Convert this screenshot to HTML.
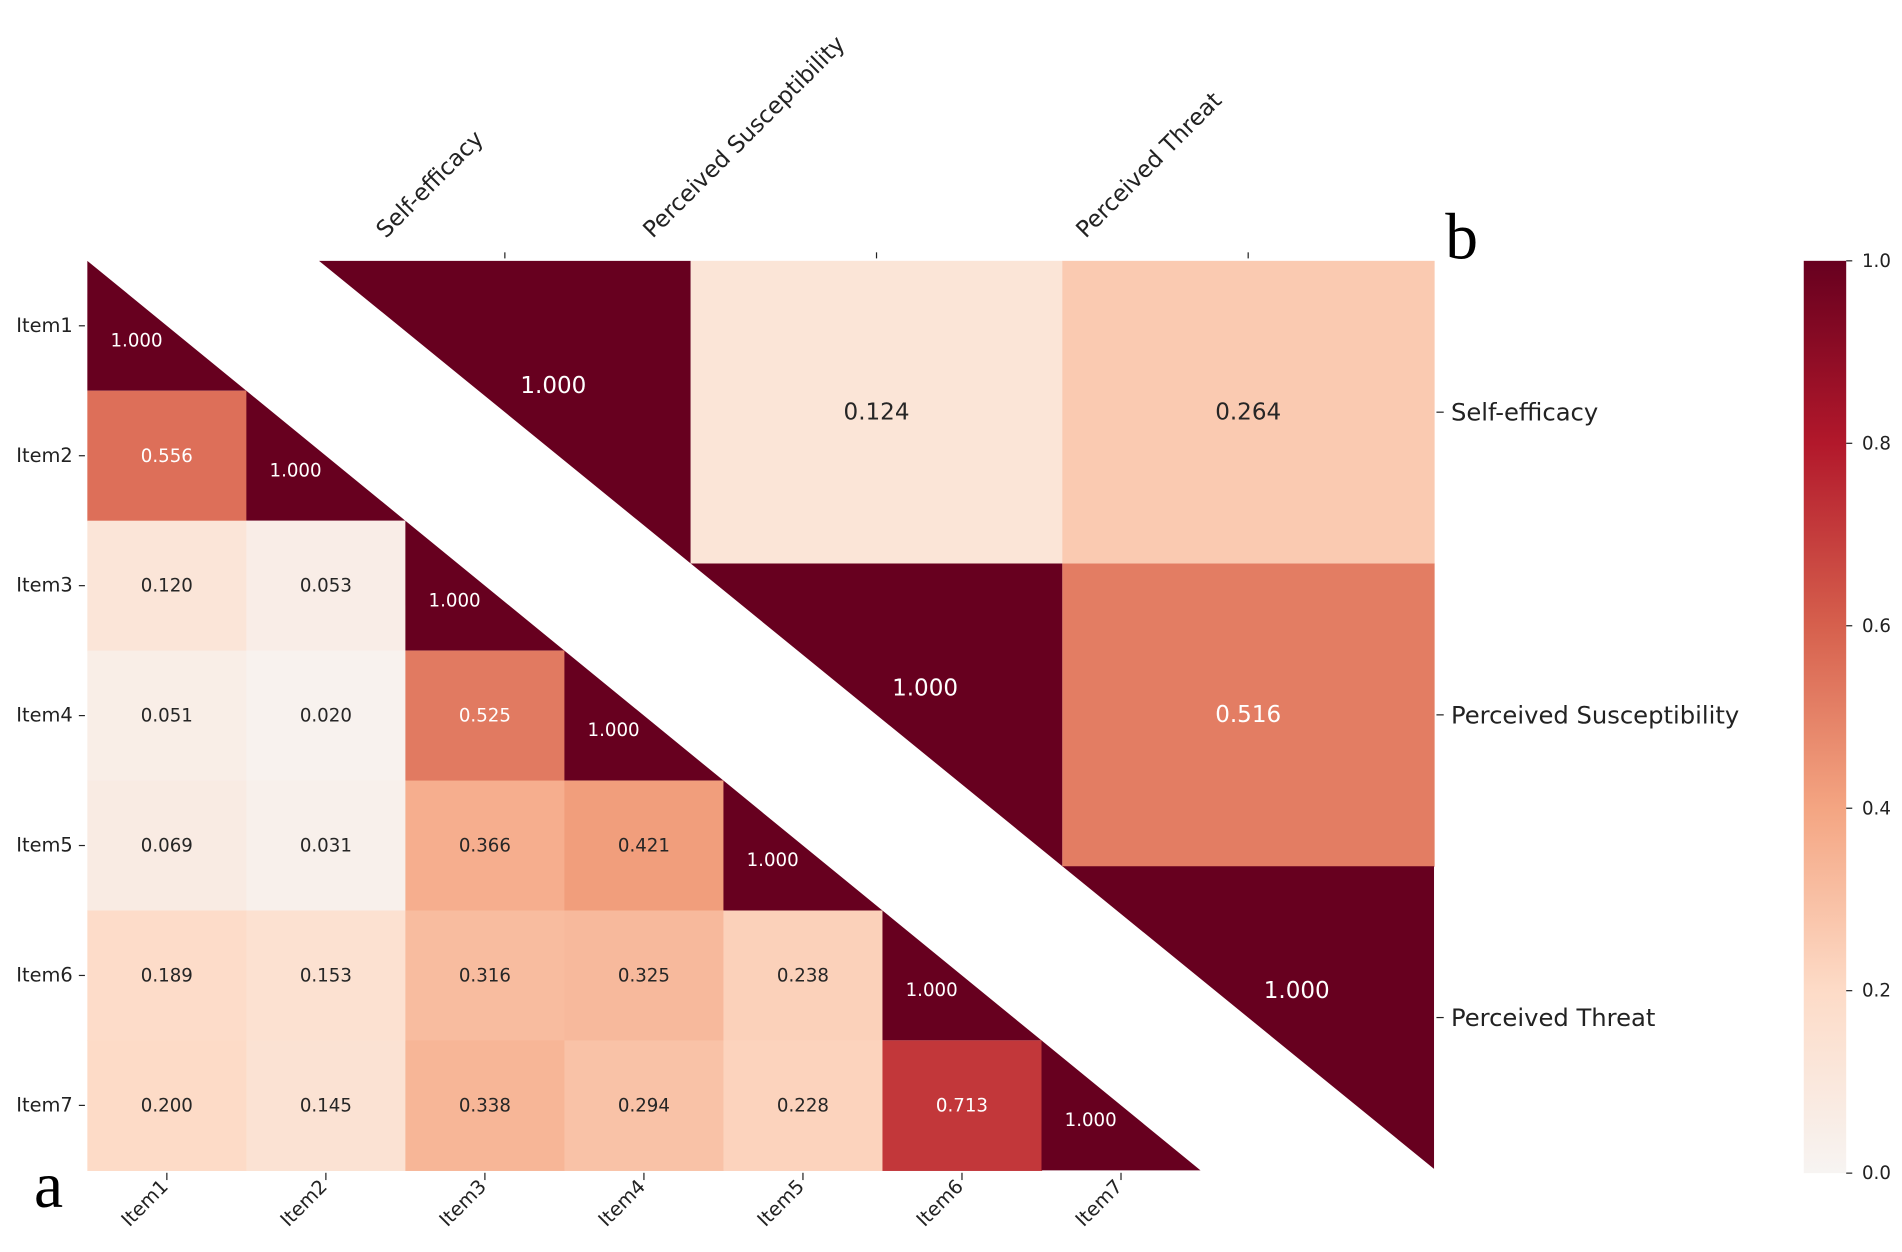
<!DOCTYPE html>
<html><head><meta charset="utf-8"><style>
html,body{margin:0;padding:0;background:#fff;}
svg{display:block;font-family:"DejaVu Sans","Liberation Sans",sans-serif;}
</style></head><body>
<svg id="chart" width="1902" height="1252" viewBox="0 0 1568 1032" preserveAspectRatio="none" xmlns="http://www.w3.org/2000/svg">
<defs>
<linearGradient id="cbg" x1="0" y1="1" x2="0" y2="0">
<stop offset="0" stop-color="#f7f4f2"/><stop offset="0.2" stop-color="#fddbc7"/><stop offset="0.4" stop-color="#f4a582"/><stop offset="0.6" stop-color="#d6604d"/><stop offset="0.8" stop-color="#b2182b"/><stop offset="1" stop-color="#67001f"/>
</linearGradient>
</defs>
<g id="pa"></g>
<g id="pb"></g>
<g id="cb"></g>
<text x="40" y="995" font-family="Liberation Serif,serif" font-size="54" text-anchor="middle">a</text>
<text x="1205" y="213" font-family="Liberation Serif,serif" font-size="54" text-anchor="middle">b</text>
</svg>
<script>
const itemLabels = ["Item1","Item2","Item3","Item4","Item5","Item6","Item7"];
const itemRow1 = [1.000];
const itemRow2 = [0.556,1.000];
const itemRow3 = [0.120,0.053,1.000];
const itemRow4 = [0.051,0.020,0.525,1.000];
const itemRow5 = [0.069,0.031,0.366,0.421,1.000];
const itemRow6 = [0.189,0.153,0.316,0.325,0.238,1.000];
const itemRow7 = [0.200,0.145,0.338,0.294,0.228,0.713,1.000];
const constructLabels = ["Self-efficacy","Perceived Susceptibility","Perceived Threat"];
const constructRow1 = [1.000,0.124,0.264];
const constructRow2 = [1.000,0.516];
const constructRow3 = [1.000];
const cbTicks = [0.0,0.2,0.4,0.6,0.8,1.0];

const NS="http://www.w3.org/2000/svg";
const stops=[[0,[247,244,242]],[0.2,[253,219,199]],[0.4,[244,165,130]],[0.6,[214,96,77]],[0.8,[178,24,43]],[1,[103,0,31]]];
function cmap(v){v=Math.max(0,Math.min(1,v));for(let i=1;i<stops.length;i++){if(v<=stops[i][0]){const a=stops[i-1],b=stops[i];const t=(v-a[0])/(b[0]-a[0]);const c=a[1].map((x,k)=>Math.round(x+(b[1][k]-x)*t));return `rgb(${c})`;}}return "rgb(103,0,31)";}
function mk(tag,attrs,parent,txt){const e=document.createElementNS(NS,tag);for(const k in attrs)e.setAttribute(k,attrs[k]);if(txt!==undefined)e.textContent=txt;parent.appendChild(e);return e;}

// Panel A
const pa=document.getElementById('pa');
const aL=72,aT=215,aW=131.1,aH=107.1;
const ax=i=>aL+i*aW, ay=j=>aT+j*aH;
const aRows=[itemRow1,itemRow2,itemRow3,itemRow4,itemRow5,itemRow6,itemRow7];
aRows.forEach((row,r)=>{row.forEach((v,c)=>{
  let el;
  if(c===r){
    el=mk('polygon',{points:`${ax(c)},${ay(r)} ${ax(c)},${ay(r+1)} ${ax(c+1)},${ay(r+1)}`,fill:cmap(v)},pa);
  } else {
    el=mk('rect',{x:ax(c),y:ay(r),width:aW+0.5,height:aH+0.5,fill:cmap(v)},pa);
  }
  
  
  const cx=ax(c)+aW/2, cy=ay(r)+aH/2;
  const tx=c===r?cx-25:cx, ty=c===r?cy+17:cy+5;
  const t=mk('text',{x:tx,y:ty,'text-anchor':'middle','font-size':15,fill:v>0.5?'#fff':'#262626'},pa,v.toFixed(3));
  
  
});});
itemLabels.forEach((lab,i)=>{
  const cy=ay(i)+aH/2;
  mk('line',{x1:aL-7,x2:aL-2,y1:cy,y2:cy,stroke:'#222','stroke-width':1},pa);
  const t=mk('text',{x:aL-12,y:cy+5,'text-anchor':'end','font-size':16,fill:'#222'},pa,lab);
  
  
  const cx=ax(i)+aW/2;
  mk('line',{x1:cx,x2:cx,y1:ay(7)+2,y2:ay(7)+8,stroke:'#222','stroke-width':1},pa);
  const t2=mk('text',{x:cx+2,y:979,'text-anchor':'end','font-size':16,fill:'#222',transform:`rotate(-45 ${cx+2} 979)`},pa,lab);
  
  
});

// Panel B
const pb=document.getElementById('pb');
const bL=263,bT=215,bW=306.4,bH=249.5;
const bx=i=>bL+i*bW, by=j=>bT+j*bH;
const bRows=[constructRow1,constructRow2,constructRow3];
bRows.forEach((row,r)=>{row.forEach((v,k)=>{
  const c=k+r;
  let el;
  if(c===r){
    el=mk('polygon',{points:`${bx(c)},${by(r)} ${bx(c+1)},${by(r)} ${bx(c+1)},${by(r+1)}`,fill:cmap(v)},pb);
  } else {
    el=mk('rect',{x:bx(c),y:by(r),width:bW+0.5,height:bH+0.5,fill:cmap(v)},pb);
  }
  
  
  const cx=bx(c)+bW/2, cy=by(r)+bH/2;
  const tx=c===r?cx+40:cx, ty=c===r?cy-16:cy+6;
  const t=mk('text',{x:tx,y:ty,'text-anchor':'middle','font-size':19,fill:v>0.5?'#fff':'#262626'},pb,v.toFixed(3));
  
  
});});
const topStarts=[318,538,895];
constructLabels.forEach((lab,i)=>{
  const cx=bx(i)+bW/2, cy=by(i)+bH/2;
  mk('line',{x1:cx,x2:cx,y1:bT-7,y2:bT-2,stroke:'#222','stroke-width':1},pb);
  mk('line',{x1:bx(3)+2,x2:bx(3)+8,y1:cy,y2:cy,stroke:'#222','stroke-width':1},pb);
  const t=mk('text',{x:bx(3)+14,y:cy+7,'font-size':20,fill:'#222'},pb,lab);
  
  
  const sx=topStarts[i];
  const t2=mk('text',{x:sx,y:197,'font-size':19,fill:'#222',transform:`rotate(-45 ${sx} 197)`},pb,lab);
  
  
});

// Colorbar
const cb=document.getElementById('cb');
const cL=1487,cT=215,cB=967,cWd=35;
const cy=v=>cB-(cB-cT)*v;
const bar=mk('rect',{x:cL,y:cT,width:cWd,height:cB-cT,fill:'url(#cbg)'},cb);


cbTicks.forEach(v=>{
  mk('line',{x1:cL+cWd,x2:cL+cWd+5,y1:cy(v),y2:cy(v),stroke:'#222','stroke-width':1},cb);
  const t=mk('text',{x:cL+cWd+13,y:cy(v)+5,'font-size':15,fill:'#222'},cb,v.toFixed(1));
  
  
});
</script>
</body></html>
